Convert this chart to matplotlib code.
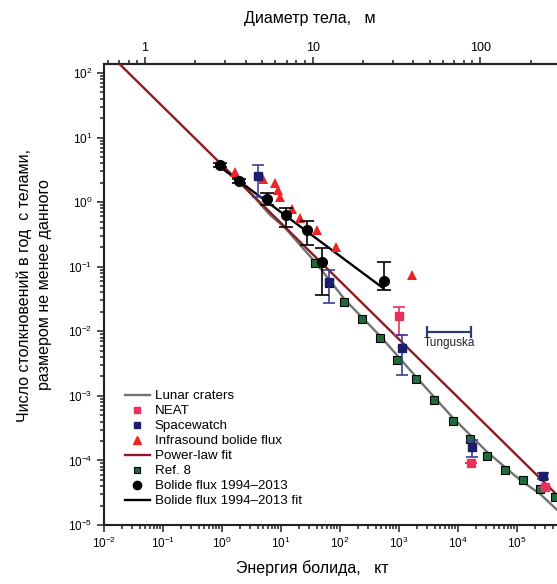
import numpy as np
import matplotlib
matplotlib.use('Agg')
import matplotlib.pyplot as plt
from matplotlib import ticker
from matplotlib.lines import Line2D

# ------------------------------------------------------------------ #
# Values (energy in kt, rate per year)
# ------------------------------------------------------------------ #

# Lunar craters (grey curve)
lunar_E = [1.79, 3.62, 6.5, 11.7, 21, 37.7, 122, 476, 1940, 8220, 31000, 1.12e5, 2.45e5, 4.76e5, 1e6]
lunar_N = [2.21, 1.16, 0.634, 0.40, 0.217, 0.119, 0.0306, 0.0085, 0.00197, 4.56e-4, 1.36e-4, 5.0e-5, 3.04e-5, 1.72e-5, 9e-6]

# Power-law fit (dark red)
pl_E = [0.0145, 1e6]
pl_N = [170, 1.5e-5]

# Ref. 8 (green squares)
ref8_E = [37.7, 65.2, 117, 236, 476, 925, 1940, 3920, 8220, 15960, 31000, 62700, 126500, 245500, 440600]
ref8_N = [0.1146, 0.0561, 0.0285, 0.01556, 0.0079, 0.0036, 0.00183, 8.67e-4, 4.10e-4, 2.16e-4, 1.18e-4, 7.14e-5, 5.0e-5, 3.63e-5, 2.74e-5]

# NEAT (pink squares)
neat_E = [1000, 16600, 2.95e5]
neat_N = [0.0174, 9.1e-5, 3.9e-5]
neat_lo = [0.0088, 9.1e-5, 3.9e-5]
neat_hi = [0.0239, 9.1e-5, 3.9e-5]

# Spacewatch (navy squares)
sw_E = [4.07, 65.2, 1122, 17400, 2.75e5]
sw_N = [2.57, 0.0582, 0.0055, 1.62e-4, 5.75e-5]
sw_lo = [1.2, 0.0275, 0.00214, 1.14e-4, 5.1e-5]
sw_hi = [3.8, 0.089, 0.0087, 2.09e-4, 6.4e-5]

# Infrasound bolide flux (red triangles)
infra_E = [1.66, 4.95, 7.9, 8.9, 9.6, 15.3, 21, 40.7, 85, 1660]
infra_N = [2.93, 2.29, 1.98, 1.55, 1.20, 0.785, 0.569, 0.372, 0.204, 0.074]

# Bolide flux 1994-2013 (black circles)
bol_E = [0.925, 1.94, 5.8, 12.2, 27.5, 49.5, 557]
bol_N = [3.77, 2.13, 1.12, 0.634, 0.372, 0.119, 0.060]
bol_lo = [3.5, 1.95, 0.905, 0.413, 0.217, 0.0366, 0.044]
bol_hi = [4.05, 2.3, 1.39, 0.81, 0.512, 0.195, 0.1186]

# Bolide flux 1994-2013 fit (black line)
fit_E = [0.93, 537]
fit_N = [3.5, 0.0467]

# Tunguska energy range
tung_E = [3000, 16600]
tung_N = 0.0098

# tick values
x_ticks = [1e-2, 1e-1, 1e0, 1e1, 1e2, 1e3, 1e4, 1e5]
y_ticks = [1e-5, 1e-4, 1e-3, 1e-2, 1e-1, 1e0, 1e1, 1e2]
d_ticks = [1, 10, 100]

# energy <-> diameter relation of the top axis: log D = (log E + a) / b
DIAM_A = 1.305
DIAM_B = 2.84

# ------------------------------------------------------------------ #

plt.rcParams['font.family'] = ['Liberation Sans', 'DejaVu Sans']
plt.rcParams['mathtext.fontset'] = 'custom'
plt.rcParams['mathtext.rm'] = 'Liberation Sans'
plt.rcParams['mathtext.it'] = 'Liberation Sans'

C_LUNAR = '#6f7570'
C_PL = '#8c1c1f'
C_GREEN = '#1f6b3a'
C_NEAT = '#e8315e'
C_SW = '#1b1f6b'
C_INFRA = '#ee2424'
C_TUNG = '#2b3a78'


def e2d(E):
    E = np.clip(np.asarray(E, dtype=float), 1e-30, None)
    return 10 ** ((np.log10(E) + DIAM_A) / DIAM_B)


def d2e(D):
    D = np.clip(np.asarray(D, dtype=float), 1e-30, None)
    return 10 ** (np.log10(D) * DIAM_B - DIAM_A)


def errs(vals, lo, hi):
    v = np.array(vals)
    return [v - np.array(lo), np.array(hi) - v]


fig = plt.figure(figsize=(5.57, 5.84), dpi=100)
ax = fig.add_axes([104 / 557, 59 / 584, 472 / 557, 461 / 584])
ax.set_xscale('log')
ax.set_yscale('log')

# lines
ax.plot(lunar_E, lunar_N, color=C_LUNAR, lw=1.7, zorder=2)
ax.plot(pl_E, pl_N, color=C_PL, lw=1.7, zorder=3)
ax.plot(fit_E, fit_N, color='black', lw=1.7, zorder=3)

# points
ax.plot(ref8_E, ref8_N, 's', color=C_GREEN, mec='black', mew=0.8, ms=5.5, zorder=4)
ax.errorbar(neat_E, neat_N, yerr=errs(neat_N, neat_lo, neat_hi), fmt='s', color=C_NEAT,
            ms=6, capsize=4, elinewidth=1.2, capthick=1.2, zorder=5)
ax.errorbar(sw_E, sw_N, yerr=errs(sw_N, sw_lo, sw_hi), fmt='s', color=C_SW, ecolor='#3a3f9a',
            ms=6, capsize=4, elinewidth=1.2, capthick=1.2, zorder=6)
ax.plot(infra_E, infra_N, '^', color=C_INFRA, ms=6.5, mew=0, zorder=5)
ax.errorbar(bol_E, bol_N, yerr=errs(bol_N, bol_lo, bol_hi), fmt='o', color='black',
            ms=7, capsize=5, elinewidth=1.2, capthick=1.2, zorder=6)

# Tunguska
tung_mid = np.sqrt(tung_E[0] * tung_E[1])
ax.errorbar([tung_mid], [tung_N], xerr=[[tung_mid - tung_E[0]], [tung_E[1] - tung_mid]],
            fmt='none', ecolor=C_TUNG, elinewidth=1.6, capsize=4, capthick=1.6)
ax.text(tung_mid, tung_N * 0.68, 'Tunguska', ha='center', va='center',
        fontsize=8.5, color='#222222')

ax.set_xlim(1e-2, 1e6)
ax.set_ylim(1e-5, 137.7)

ax.xaxis.set_major_locator(ticker.FixedLocator(x_ticks))
ax.xaxis.set_minor_locator(ticker.LogLocator(base=10, subs=np.arange(2, 10), numticks=20))
ax.yaxis.set_major_locator(ticker.FixedLocator(y_ticks))
ax.yaxis.set_minor_locator(ticker.LogLocator(base=10, subs=np.arange(2, 10), numticks=20))
ax.xaxis.set_major_formatter(ticker.LogFormatterSciNotation())
ax.yaxis.set_major_formatter(ticker.LogFormatterSciNotation())
ax.xaxis.set_minor_formatter(ticker.NullFormatter())
ax.yaxis.set_minor_formatter(ticker.NullFormatter())

ax.tick_params(which='both', direction='out', width=1.1, labelsize=8.5, color='#222222')
ax.tick_params(which='major', length=5)
ax.tick_params(which='minor', length=3)
ax.tick_params(axis='x', pad=3)
for s in ax.spines.values():
    s.set_linewidth(1.5)
    s.set_color('#222222')

# top axis: body diameter
secax = ax.secondary_xaxis('top', functions=(e2d, d2e))
secax.xaxis.set_major_locator(ticker.FixedLocator(d_ticks))
secax.xaxis.set_minor_locator(ticker.LogLocator(base=10, subs=np.arange(2, 10), numticks=10))
secax.xaxis.set_major_formatter(ticker.FuncFormatter(lambda v, p: '%g' % v))
secax.xaxis.set_minor_formatter(ticker.NullFormatter())
secax.tick_params(which='both', direction='out', width=1.1, labelsize=9, pad=2, color='#222222')
secax.tick_params(which='major', length=5)
secax.tick_params(which='minor', length=3)
secax.spines['top'].set_linewidth(1.5)

# legend
handles = [
    Line2D([], [], color=C_LUNAR, lw=1.7),
    Line2D([], [], ls='none', marker='s', color=C_NEAT, ms=5),
    Line2D([], [], ls='none', marker='s', color=C_SW, ms=5),
    Line2D([], [], ls='none', marker='^', color=C_INFRA, ms=6),
    Line2D([], [], color=C_PL, lw=1.7),
    Line2D([], [], ls='none', marker='s', color=C_GREEN, mec='black', mew=0.8, ms=5),
    Line2D([], [], ls='none', marker='o', color='black', ms=6),
    Line2D([], [], color='black', lw=1.7),
]
labels = ['Lunar craters', 'NEAT', 'Spacewatch', 'Infrasound bolide flux', 'Power-law fit',
          'Ref. 8', 'Bolide flux 1994\u20132013', 'Bolide flux 1994\u20132013 fit']
ax.legend(handles, labels, loc='lower left', bbox_to_anchor=(0.044, 0.038), frameon=False,
          fontsize=9.6, borderpad=0, borderaxespad=0, labelspacing=0.2, handlelength=1.9,
          handletextpad=0.35, numpoints=1)

# axis titles
fig.text(312 / 557, 1 - 568 / 584, 'Энергия болида,   кт', ha='center', va='center', fontsize=11.5)
fig.text(310 / 557, 1 - 18 / 584, 'Диаметр тела,   м', ha='center', va='center', fontsize=11.5)
fig.text(34 / 557, 1 - 285 / 584, 'Число столкновений в год  с телами,\nразмером не менее данного',
         ha='center', va='center', rotation=90, fontsize=11.5, linespacing=1.45, multialignment='center')

fig.savefig('out.png', dpi=100)
